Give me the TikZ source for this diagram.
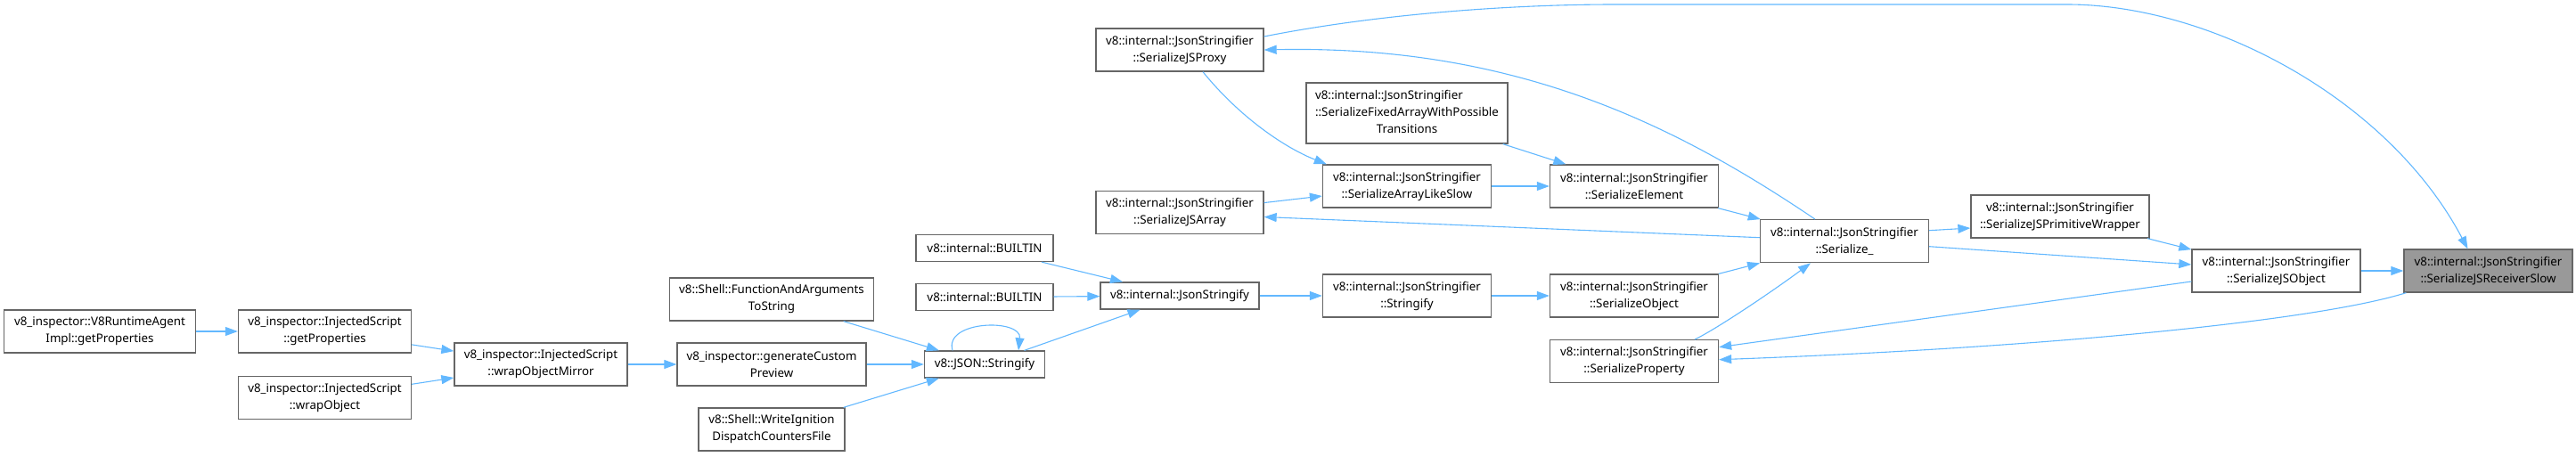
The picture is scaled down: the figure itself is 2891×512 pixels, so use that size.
\documentclass[tikz,border=0pt]{standalone}
\usepackage{fontspec}
\setmainfont{Noto Sans}
\usepackage{tikz}
\usetikzlibrary{arrows.meta, positioning}
\definecolor{edgeblue}{RGB}{99, 184, 255}
\definecolor{boxline}{RGB}{102, 102, 102}
\definecolor{focusgray}{RGB}{153, 153, 153}
\newcommand{\callfont}{\fontsize{13.33}{19}\selectfont}

\begin{document}
\begin{tikzpicture}[
          x=1pt, y=-1pt,
          box/.style={draw=boxline, line width=1.3pt, fill=white, inner sep=0pt,
                      minimum height=48pt, font=\callfont, align=center},
          onebox/.style={box, minimum height=30pt},
          arr/.style={-{Triangle[length=14pt, width=10pt]}, line width=1.1pt, color=edgeblue},
        ]
        \useasboundingbox (0,0) rectangle (2891,512);
        \node[box, minimum width=215pt] (agent) at (112,372) {v8\_inspector::V8RuntimeAgent\\Impl::getProperties};
        \node[box, minimum width=194pt] (injprops) at (364.5,372) {v8\_inspector::InjectedScript\\::getProperties};
        \node[box, minimum width=194pt, below=25pt of injprops] (injwrap) {v8\_inspector::InjectedScript\\::wrapObject};
        \node[box, minimum width=194pt] (injmirror) at (607,409) {v8\_inspector::InjectedScript\\::wrapObjectMirror};
        \node[box, minimum width=229pt] (funcargs) at (866,336) {v8::Shell::FunctionAndArguments\\ToString};
        \node[box, minimum width=212pt] (preview) at (866,409) {v8\_inspector::generateCustom\\Preview};
        \node[box, minimum width=164pt] (ignition) at (866,482) {v8::Shell::WriteIgnition\\DispatchCountersFile};
        \node[onebox, minimum width=135pt] (jsonstr) at (1105,409) {v8::JSON::Stringify};
        \node[onebox, minimum width=154pt] (builtina) at (1105,278.5) {v8::internal::BUILTIN};
        \node[onebox, minimum width=154pt, below=23.7pt of builtina] (builtinb) {v8::internal::BUILTIN};
        \node[onebox, minimum width=178pt] (intjson) at (1324,332) {v8::internal::JsonStringify};
        \node[box, minimum width=188pt] (jsproxy) at (1324,56) {v8::internal::JsonStringifier\\::SerializeJSProxy};
        \node[box, minimum width=188pt] (jsarray) at (1324,238.5) {v8::internal::JsonStringifier\\::SerializeJSArray};
        \node[box, minimum width=226pt, minimum height=68pt] (fixedarr) at (1579,127)
             {\begin{tabular}{@{}l@{}}v8::internal::JsonStringifier\\::SerializeFixedArrayWithPossible\\\multicolumn{1}{@{}c@{}}{Transitions}\end{tabular}};
        \node[box, minimum width=189pt] (arrslow) at (1579,209) {v8::internal::JsonStringifier\\::SerializeArrayLikeSlow};
        \node[box, minimum width=189pt] (stringify) at (1579,332) {v8::internal::JsonStringifier\\::Stringify};
        \node[box, minimum width=189pt] (element) at (1834,209) {v8::internal::JsonStringifier\\::SerializeElement};
        \node[box, minimum width=189pt] (object) at (1834,332) {v8::internal::JsonStringifier\\::SerializeObject};
        \node[box, minimum width=189pt, below=24.4pt of object] (property) {v8::internal::JsonStringifier\\::SerializeProperty};
        \node[box, minimum width=189pt] (serialize) at (2070,270.7) {v8::internal::JsonStringifier\\::Serialize\_};
        \node[box, minimum width=200pt] (primwrap) at (2312,243) {v8::internal::JsonStringifier\\::SerializeJSPrimitiveWrapper};
        \node[box, minimum width=189pt] (jsobject) at (2554.5,304) {v8::internal::JsonStringifier\\::SerializeJSObject};
        \node[box, minimum width=189pt, fill=focusgray, right=47.7pt of jsobject] (receiver) {v8::internal::JsonStringifier\\::SerializeJSReceiverSlow};
        \draw[arr] (agent) -- (injprops);
        \draw[arr] (injprops) -- (injmirror);
        \draw[arr] (injwrap) -- (injmirror);
        \draw[arr] (injmirror) -- (preview);
        \draw[arr] (funcargs) -- (jsonstr);
        \draw[arr] (preview) -- (jsonstr);
        \draw[arr] (ignition) -- (jsonstr);
        \draw[arr] ([xshift=-36pt]jsonstr.north) .. controls +(-10,-34) and +(4,-36) .. ([xshift=38pt]jsonstr.north);
        \draw[arr] (jsonstr) -- (intjson);
        \draw[arr] (builtina) -- (intjson);
        \draw[arr] (builtinb) -- (intjson);
        \draw[arr] (intjson) -- (stringify);
        \draw[arr] (stringify) -- (object);
        \draw[arr] (object) -- (serialize);
        \draw[arr] (element) -- (serialize);
        \draw[arr] ([xshift=68pt]property.north) .. controls (1925,370) and (1985,330) .. ([xshift=-38pt]serialize.south);
        \draw[arr] ([xshift=-33pt]serialize.north) .. controls (1880,140) and (1700,50) .. (jsproxy.east);
        \draw[arr] ([yshift=4pt]serialize.west) -- ([yshift=-5pt]jsarray.east);
        \draw[arr] ([yshift=12pt]serialize.east) -- ([yshift=-13pt]primwrap.west);
        \draw[arr] ([yshift=-6pt]serialize.east) -- ([yshift=7pt]jsobject.west);
        \draw[arr] (primwrap) -- (jsobject);
        \draw[arr] (jsobject) -- (receiver);
        \draw[arr] ([yshift=-12pt]jsobject.west) -- ([yshift=16pt]property.east);
        \draw[arr] ([xshift=3pt]receiver.south west) .. controls (2600,360) and (2300,390) .. ([yshift=2pt]property.east);
        \draw[arr] ([yshift=15pt]jsproxy.east) .. controls (1550,15) and (1700,5) .. (1812,5) -- (2320,5)
                   .. controls (2480,5) and (2680,110) .. ([xshift=-23pt]receiver.north);
        \draw[arr] ([xshift=26pt]jsproxy.south) .. controls (1390,130) and (1440,165) .. ([xshift=5pt]arrslow.north west);
        \draw[arr] (jsarray) -- (arrslow);
        \draw[arr] (arrslow) -- (element);
        \draw[arr] (fixedarr) -- (element);
      \end{tikzpicture}
\end{document}
